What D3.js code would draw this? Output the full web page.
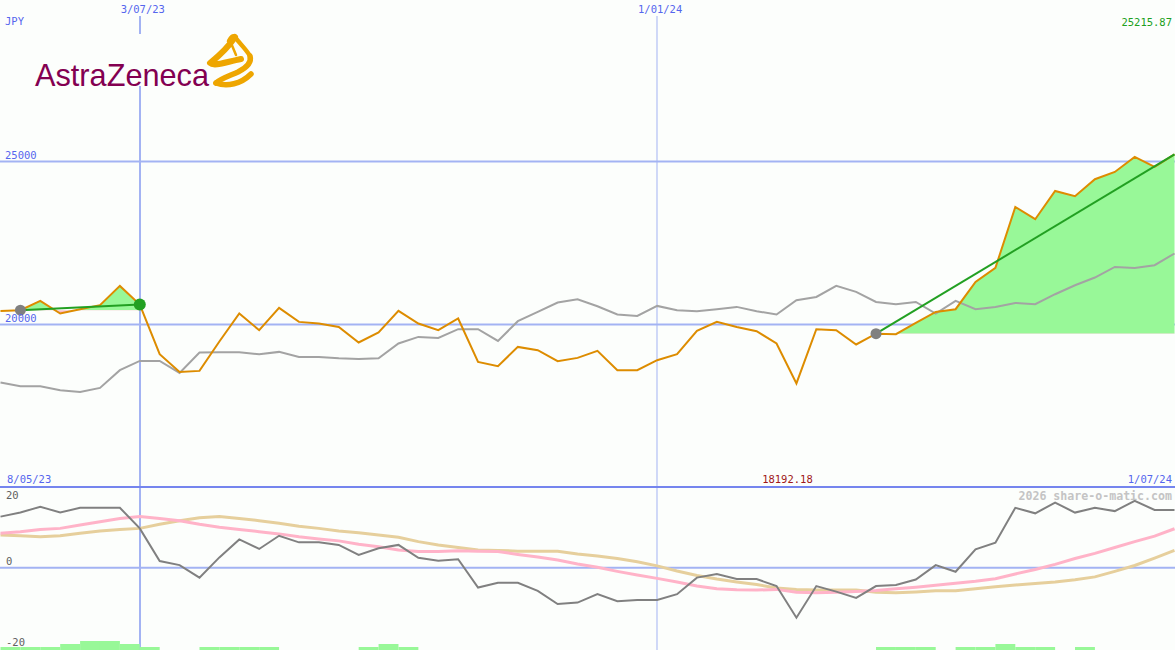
<!DOCTYPE html>
<html><head><meta charset="utf-8">
<script src="https://cdn.jsdelivr.net/npm/d3@7"></script>
<style>html,body{margin:0;padding:0;background:#fcfefc;overflow:hidden}svg{display:block}</style>
</head><body><svg id="c" width="1175" height="650"></svg>
<script>
// ---------- data ----------
const dates = ["2023-05-15","2023-05-22","2023-05-29","2023-06-05","2023-06-12","2023-06-19","2023-06-26",
"2023-07-03","2023-07-10","2023-07-17","2023-07-24","2023-07-31","2023-08-07","2023-08-14","2023-08-21","2023-08-28",
"2023-09-04","2023-09-11","2023-09-18","2023-09-25","2023-10-02","2023-10-09","2023-10-16","2023-10-23","2023-10-30",
"2023-11-06","2023-11-13","2023-11-20","2023-11-27","2023-12-04","2023-12-11","2023-12-18","2023-12-25",
"2024-01-01","2024-01-08","2024-01-15","2024-01-22","2024-01-29","2024-02-05","2024-02-12","2024-02-19","2024-02-26",
"2024-03-04","2024-03-11","2024-03-18","2024-03-25","2024-04-01","2024-04-08","2024-04-15","2024-04-22","2024-04-29",
"2024-05-06","2024-05-13","2024-05-20","2024-05-27","2024-06-03","2024-06-10","2024-06-17","2024-06-24","2024-07-01"];
const price = [20417,20439,20724,20337,20469,20592,21184,20610,19089,18546,18577,19480,20337,19825,20509,20080,
20031,19926,19448,19755,20417,20031,19825,20184,18853,18721,19313,19212,18874,18976,19190,18598,18598,
18905,19089,19804,20080,19926,19795,19417,18192.18,19856,19825,19387,19718,19703,20049,20386,20469,21306,
21736,23607,23230,24097,23935,24456,24680,25140,24833,25215.87];
const indexLine = [18221,18108,18108,17985,17933,18056,18598,18884,18884,18516,19141,19150,19150,19089,19160,19006,
19006,18966,18945,18966,19417,19620,19589,19856,19856,19497,20101,20386,20675,20776,20561,20307,20264,
20570,20439,20408,20469,20540,20408,20307,20745,20846,21184,21000,20693,20623,20693,20337,20724,20469,
20540,20662,20623,20929,21205,21441,21767,21736,21819,22178];
const momentum = [13.9,15.0,16.6,15.0,16.3,16.3,16.3,10.7,1.8,0.7,-2.7,2.8,7.7,5.1,8.7,6.9,6.9,6.2,3.5,5.3,
6.2,2.7,1.9,2.3,-5.4,-4.1,-4.1,-6.3,-9.9,-9.5,-7.2,-9.1,-8.8,-8.8,-7.2,-2.7,-1.7,-3.1,-3.1,-5.0,
-13.6,-5.0,-6.5,-8.2,-5.0,-4.7,-3.2,0.7,-1.1,5.0,6.8,16.3,14.8,17.7,15.0,16.3,15.4,18.2,15.7,15.7];
const maFast = [9.4,9.8,10.4,10.7,11.6,12.5,13.4,13.9,13.4,12.8,11.8,11.0,10.4,9.8,9.2,8.4,7.8,7.3,6.4,5.7,
4.8,4.4,4.4,4.6,4.5,4.4,3.6,2.9,2.1,1.0,0.1,-1.0,-2.0,-2.9,-3.9,-5.0,-5.7,-6.0,-6.1,-5.9,
-6.7,-6.8,-6.7,-6.5,-6.2,-5.7,-5.3,-4.8,-4.2,-3.7,-3.0,-1.7,-0.5,0.9,2.5,3.9,5.5,7.1,8.6,10.6];
const maSlow = [8.9,8.7,8.4,8.7,9.4,10.0,10.4,10.7,11.8,12.8,13.6,13.9,13.4,12.8,12.1,11.3,10.7,10.0,9.5,8.9,
8.3,7.1,6.2,5.5,4.8,4.7,4.5,4.5,4.5,3.7,3.2,2.5,1.6,0.5,-0.9,-2.1,-3.1,-3.9,-4.6,-5.5,
-5.9,-6.1,-6.1,-6.1,-6.7,-6.8,-6.6,-6.3,-6.3,-5.7,-5.2,-4.7,-4.3,-3.9,-3.3,-2.5,-1.0,0.6,2.6,4.7];
const signal = [1,1,1,2,3,3,2,1,0,0,1,1,1,1,0,0,0,0,1,2,1,0,0,0,0,0,0,0,0,0,0,0,0,0,0,0,0,0,0,0,
0,0,0,0,1,1,1,0,1,1,2,1,1,0,1,0,0,0,0,0];
const trendStart = ["2023-05-22","2024-03-18"];
const trendEnd   = ["2023-07-03","2024-07-01"];
const trendEndDot = [true,false];
const priceTicks = [20000,25000];
const momTicks = [20,0,-20];
const dateTicks = ["2023-07-03","2024-01-01"];
const dateTickLabels = ["3/07/23","1/01/24"];
const rangeLabels = ["8/05/23","1/07/24"];
const currency = "JPY";

// ---------- setup ----------
const W = 1175, H = 650;
const svg = d3.select("#c");
const parse = d3.utcParse("%Y-%m-%d");
const D = dates.map(parse);
const x = d3.scaleUtc().domain([D[0], D[D.length-1]]).range([0.5, 1174.5]);
const y = d3.scaleLinear().domain([20000,25000]).range([324.5,161.5]);
const yb = d3.scaleLinear().domain([-20,20]).range([641.2,494.2]);
const yv = d3.scaleLinear().domain([0,3]).range([650,641]);
const MONO = "'DejaVu Sans Mono', monospace";
const BLUE = "#5566ee", GRID = "#a3b3f3";

svg.append("rect").attr("width",W).attr("height",H).attr("fill","#fcfefc");

// horizontal grid main
svg.selectAll(".hg").data(priceTicks).join("line")
  .attr("x1",0).attr("x2",W).attr("y1",d=>y(d)).attr("y2",d=>y(d))
  .attr("stroke",GRID).attr("stroke-width",2);
// lower zero line
svg.append("line").attr("x1",0).attr("x2",W).attr("y1",yb(0)).attr("y2",yb(0))
  .attr("stroke",GRID).attr("stroke-width",2);
// vertical grid
const vw=[2,1];
svg.selectAll(".vg").data(dateTicks).join("line")
  .attr("x1",d=>Math.round(x(parse(d)))).attr("x2",d=>Math.round(x(parse(d))))
  .attr("y1",16).attr("y2",H).attr("stroke",GRID).attr("stroke-width",(d,i)=>vw[i]);
// separator
svg.append("line").attr("x1",0).attr("x2",W).attr("y1",487).attr("y2",487)
  .attr("stroke","#7585ee").attr("stroke-width",2);

// logo backdrop
svg.append("rect").attr("x",30).attr("y",34).attr("width",228).attr("height",52).attr("fill","#fcfefc");

// ---------- trend areas ----------
const defs = svg.append("defs");
trendStart.forEach((s,k)=>{
  const i0 = dates.indexOf(s), i1 = dates.indexOf(trendEnd[k]);
  const pts = d3.range(i0,i1+1).map(i=>({d:D[i],v:price[i]}));
  const base = price[i0];
  const area = d3.area().x(p=>x(p.d)).y0(y(base)).y1(p=>y(p.v));
  const xa = x(D[i0]), xb = x(D[i1]);
  defs.append("clipPath").attr("id","up"+k).append("rect")
    .attr("x",xa).attr("y",0).attr("width",xb-xa+1).attr("height",y(base));
  defs.append("clipPath").attr("id","dn"+k).append("rect")
    .attr("x",xa).attr("y",y(base)).attr("width",xb-xa+1).attr("height",H);
  svg.append("path").attr("d",area(pts)).attr("fill","#98f898").attr("clip-path",`url(#up${k})`);
  svg.append("path").attr("d",area(pts)).attr("fill","#ffb6c6").attr("clip-path",`url(#dn${k})`);
});

// ---------- main lines ----------
const line = d3.line().x((d,i)=>x(D[i])).y(d=>y(d));
svg.append("path").attr("d",line(indexLine)).attr("fill","none").attr("stroke","#a3a3a3").attr("stroke-width",2);
svg.append("path").attr("d",line(price)).attr("fill","none").attr("stroke","#dd8c00").attr("stroke-width",2);

trendStart.forEach((s,k)=>{
  const i0 = dates.indexOf(s), i1 = dates.indexOf(trendEnd[k]);
  svg.append("line").attr("x1",x(D[i0])).attr("y1",y(price[i0])).attr("x2",x(D[i1])).attr("y2",y(price[i1]))
    .attr("stroke","#22a022").attr("stroke-width",2);
  svg.append("circle").attr("cx",x(D[i0])).attr("cy",y(price[i0])).attr("r",5.5).attr("fill","#808080");
  if (trendEndDot[k]) svg.append("circle").attr("cx",x(D[i1])).attr("cy",y(price[i1])).attr("r",6).attr("fill","#22a022");
});

// ---------- lower panel ----------
svg.selectAll(".vb").data(signal).join("rect")
  .attr("x",(d,i)=>x(D[i])).attr("width",(d,i)=>(x(D[1])-x(D[0])))
  .attr("y",d=>yv(d)).attr("height",d=>yv(0)-yv(d)).attr("fill","#98f898");
const lline = d3.line().x((d,i)=>x(D[i])).y(d=>yb(d));
svg.append("path").attr("d",lline(maSlow)).attr("fill","none").attr("stroke","#e6cf9c").attr("stroke-width",3);
svg.append("path").attr("d",lline(maFast)).attr("fill","none").attr("stroke","#ffb3c8").attr("stroke-width",3);
svg.append("path").attr("d",lline(momentum)).attr("fill","none").attr("stroke","#808080").attr("stroke-width",2);

// ---------- texts ----------
const txt = (t,xx,yy,anchor,color,size,weight)=>svg.append("text").text(t).attr("x",xx).attr("y",yy)
  .attr("text-anchor",anchor||"start").attr("fill",color).attr("font-family",MONO)
  .attr("font-size",size||10.5).attr("font-weight",weight||"normal");
txt(currency,5,25,"start",BLUE);
dateTicks.forEach((d,i)=>txt(dateTickLabels[i],x(parse(d))+3,13,"middle",BLUE));
const maxV = d3.max(price), minV = d3.min(price);
txt(maxV.toFixed(2),1172,26,"end","#20a020");
priceTicks.forEach(v=>txt(String(v),5,y(v)-3,"start",BLUE));
txt(rangeLabels[0],7,483,"start",BLUE);
txt(rangeLabels[1],1172,483,"end",BLUE);
const iMin = price.indexOf(minV);
txt(minV.toFixed(2),x(D[iMin])-9,483,"middle","#a01818");
txt("2026 share-o-matic.com",1172,500,"end","#c4c4c4",11.6,"bold");
momTicks.forEach(v=>txt(String(v),6,yb(v)+(v===20?5:v===0?-3:5),"start","#606060"));

// ---------- logo ----------
const logo = svg.append("g");
logo.append("text").text("AstraZeneca").attr("x",35).attr("y",86)
  .attr("font-family","'Liberation Sans', Arial, sans-serif").attr("font-size",32)
  .attr("fill","#830051").attr("textLength",174).attr("lengthAdjust","spacingAndGlyphs");
const gold = "#eea600";
const st = (d,w)=>logo.append("path").attr("d",d).attr("fill","none").attr("stroke",gold)
  .attr("stroke-width",w).attr("stroke-linecap","round").attr("stroke-linejoin","round");
// left diagonal band and triangle loop
st("M235,37 C229,46 219,56 210,63 C214,67 226,62 241,59",6);
// top leaf
st("M229,41 C231,37 233,35 235,37 C240,44 246,49 250,56",4.5);
// right swoop down to the lower left
st("M250,56 C252,63 246,68 238,72 C229,76 220,79 216,83",5.5);
// bottom stroke
st("M216,83 C227,87 241,84 251,74",5.5);
// inner thin line
st("M231,43 L236,55",2.5);
</script></body></html>
